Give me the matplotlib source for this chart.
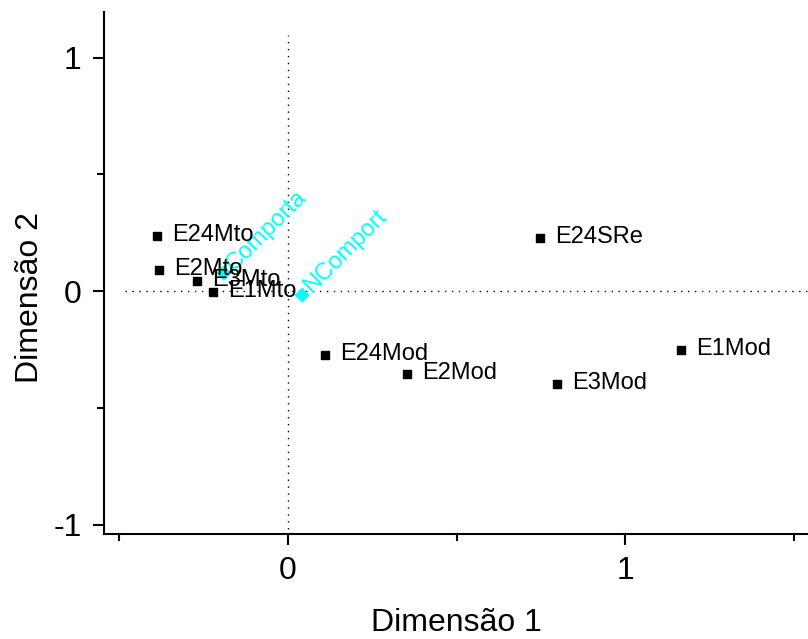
import numpy as np
import matplotlib
matplotlib.use("Agg")
import matplotlib.pyplot as plt
from matplotlib.ticker import MultipleLocator

plt.rcParams['font.family'] = ['Liberation Sans', 'DejaVu Sans']
plt.rcParams['axes.unicode_minus'] = False

# category coordinates (dimension 1, dimension 2)
cat_names = ["E24Mto", "E2Mto", "E3Mto", "E1Mto", "E24Mod", "E2Mod",
             "E3Mod", "E1Mod", "E24SRe"]
cat_dim1 = [-0.389, -0.383, -0.270, -0.223, 0.110, 0.353, 0.798, 1.166, 0.748]
cat_dim2 = [0.236, 0.090, 0.043, -0.004, -0.274, -0.355, -0.398, -0.253, 0.227]

# supplementary points
sup_names = ["Comporta", "NComport"]
sup_dim1 = [-0.19, 0.042]
sup_dim2 = [0.077, -0.017]

fig = plt.figure(figsize=(8.08, 6.39), dpi=100)
ax = fig.add_axes([0.1287, 0.1643, 0.8713, 0.8167])

ax.axhline(0, color="black", linestyle=(0, (1, 4)), linewidth=1.0, xmin=0.03)
ax.axvline(0, color="black", linestyle=(0, (1, 4)), linewidth=1.0,
           ymin=0.01, ymax=0.956)

ax.scatter(sup_dim1, sup_dim2, marker="D", s=60, color="#00FFFF",
           edgecolors="none", zorder=3)
for name, x, y in zip(sup_names, sup_dim1, sup_dim2):
    ax.annotate(name, (x, y), xytext=(4, 4), textcoords="offset points",
                rotation=45, rotation_mode="anchor", ha="left", va="center",
                color="#00FFFF", fontsize=17, zorder=3)

ax.scatter(cat_dim1, cat_dim2, marker="s", s=40, color="black", zorder=4)
for name, x, y in zip(cat_names, cat_dim1, cat_dim2):
    ax.annotate(name, (x, y), xytext=(11, 1), textcoords="offset points",
                ha="left", va="center", color="black", fontsize=17, zorder=5)

ax.set_xlim(-0.546, 1.543)
ax.set_ylim(-1.04, 1.195)
ax.xaxis.set_major_locator(MultipleLocator(1))
ax.xaxis.set_minor_locator(MultipleLocator(0.5))
ax.yaxis.set_major_locator(MultipleLocator(1))
ax.yaxis.set_minor_locator(MultipleLocator(0.5))

for side in ("top", "right"):
    ax.spines[side].set_visible(False)
for side in ("left", "bottom"):
    ax.spines[side].set_linewidth(1.5)

ax.tick_params(which="major", length=8, width=1.5, labelsize=23, pad=8)
ax.tick_params(which="minor", length=5, width=1.5)

ax.set_xlabel("Dimensão 1", fontsize=23, labelpad=16)
ax.set_ylabel("Dimensão 2", fontsize=23)
ax.yaxis.set_label_coords(-0.084, 0.454)

fig.savefig("out.png", dpi=100)
